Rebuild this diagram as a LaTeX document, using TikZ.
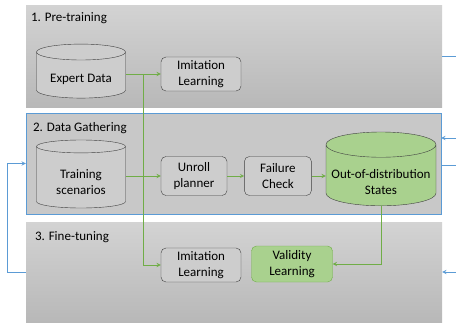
\documentclass[tikz,border=0pt]{standalone}
\usepackage{fontspec}
\setmainfont{Carlito}
\usetikzlibrary{shapes.geometric,positioning,calc}

\definecolor{panelgray}{HTML}{C8C8C8}
\definecolor{boxgray}{HTML}{CDCDCD}
\definecolor{flowgreen}{HTML}{70AD47}
\definecolor{oodgreen}{HTML}{A9D18E}
\definecolor{loopblue}{HTML}{5B9BD5}
\definecolor{edgegray}{HTML}{404040}

\begin{document}
\begin{tikzpicture}[x=1pt,y=-1pt,>=stealth,
    font=\fontsize{13}{16}\selectfont,
    panel/.style={rectangle,inner sep=0pt,top color=panelgray!80!white,bottom color=panelgray!92!black},
    phase/.style={anchor=west,inner sep=0pt},
    stepbox/.style={rectangle,rounded corners=5pt,draw=edgegray,fill=boxgray,align=center,inner sep=1pt},
    store/.style={cylinder,shape border rotate=90,draw=edgegray,fill=boxgray,align=center,aspect=0.25,inner sep=1pt},
    flow/.style={->,draw=flowgreen,line width=0.9pt},
    feedback/.style={->,draw=loopblue,line width=0.9pt}]

  \useasboundingbox (0,0) rectangle (456,325);

  \node[panel,minimum width=416pt,minimum height=102pt] (pre) at (234,56) {};
  \node[panel,minimum width=415pt,minimum height=101pt,draw=loopblue,fill=panelgray,top color=panelgray,bottom color=panelgray] (gather) at (233.5,163.5) {};
  \node[panel,minimum width=416pt,minimum height=100pt] (fine) at (234,272) {};

  \node[phase] (prelabel) at ($(pre.north west)+(5,13)$) {1. Pre-training};
  \node[phase] (gatherlabel) at ($(gather.north west)+(7,15)$) {2. Data Gathering};
  \node[phase] (finelabel) at ($(fine.north west)+(9,15)$) {3. Fine-tuning};

  \node[store,minimum width=89pt,minimum height=54pt] (expert) at (81,76) {\rule{0pt}{15pt}Expert Data};
  \node[stepbox,minimum width=80pt,minimum height=34pt] (il1) at (201,74) {Imitation\\Learning};

  \node[store,minimum width=89pt,minimum height=68pt] (train) at (81,178) {\rule{0pt}{17pt}Training\\scenarios};
  \node[stepbox,minimum width=66pt,minimum height=39pt] (unroll) at (194,176) {Unroll\\planner};
  \node[stepbox,minimum width=67pt,minimum height=39pt,right=17pt of unroll] (fail) {Failure\\Check};
  \node[store,minimum width=110pt,minimum height=67pt,fill=oodgreen] (ood) at (381,176.5) {\rule{0pt}{20pt}Out-of-distribution\\States};

  \node[stepbox,minimum width=80pt,minimum height=34pt] (il2) at (201,265) {Imitation\\Learning};
  \node[stepbox,minimum width=81pt,minimum height=36pt,draw=flowgreen,fill=oodgreen] (valid) at (292,264) {Validity\\Learning};

  \coordinate (split) at ($(il1.west -| expert.east)!0.5!(il1.west)$);
  \draw[flow] (il1.west -| expert.east) -- (il1.west);
  \draw[flow] (split) |- (il2.west);
  \draw[flow] (train.east |- unroll.west) -- (unroll.west);
  \draw[flow] (unroll) -- (fail);
  \draw[flow] (fail.east) -- (fail.east -| ood.west);
  \draw[flow] (ood.south) |- (valid.east);

  \coordinate (out1) at (456,56);
  \coordinate (in2) at (456,138);
  \coordinate (out2) at (456,165);
  \coordinate (in3) at (456,272);
  \draw[feedback] (fine.west) -- ++(-18,0) |- (gather.west);
  \draw[feedback,-] (pre.east) -- (out1);
  \draw[feedback] (in2) -- (in2 -| gather.east);
  \draw[feedback,-] (out2 -| gather.east) -- (out2);
  \draw[feedback] (in3) -- (fine.east);
\end{tikzpicture}
\end{document}
